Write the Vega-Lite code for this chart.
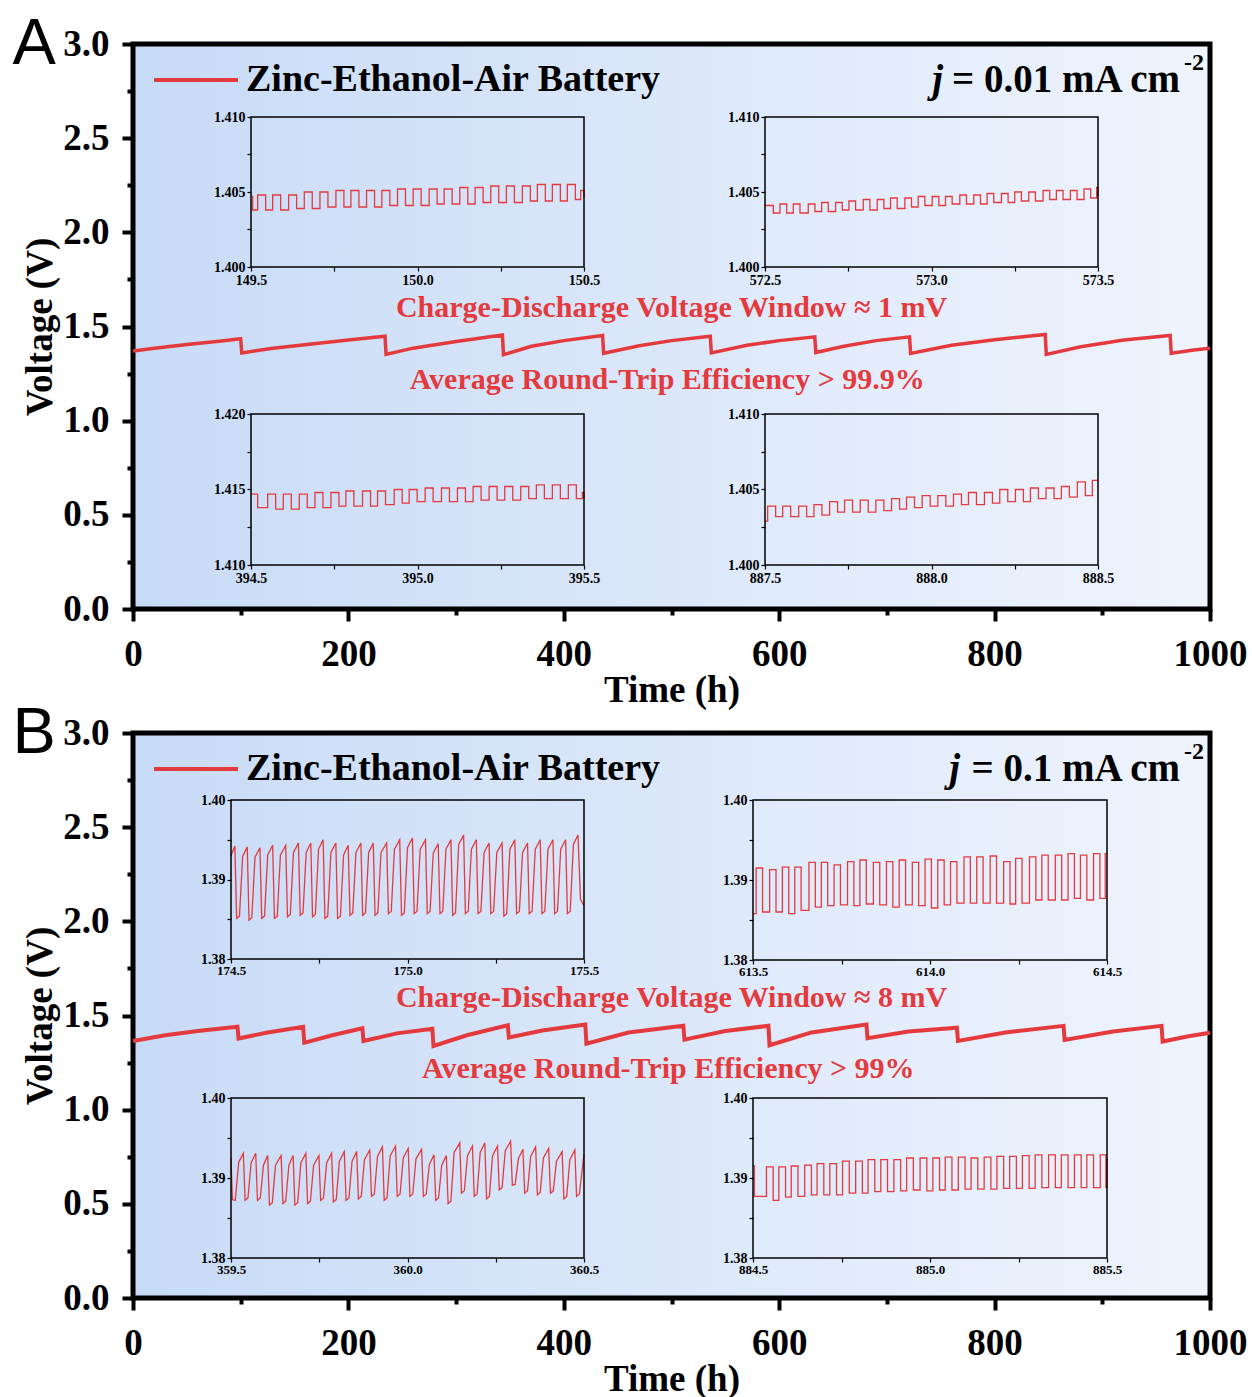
{
"$schema":"https://vega.github.io/schema/vega-lite/v6.json",
"width":1252,"height":1397,"autosize":{"type":"none"},"padding":0,"background":"white",
"config":{"view":{"stroke":null},
 "axis":{"labelFont":"Liberation Serif","labelFontWeight":"bold","labelColor":"black","tickColor":"black","titleFont":"Liberation Serif","titleFontWeight":"bold","titleColor":"black","grid":false,"domain":false,"zindex":5,"labelFlush":false},
 "text":{"font":"Liberation Serif","fontWeight":"bold"}},
"datasets":{
"mainA":[{"t":0,"v":1.37},{"t":20,"v":1.385},{"t":50,"v":1.405},{"t":80,"v":1.422},{"t":100,"v":1.435},{"t":101,"v":1.36},{"t":130,"v":1.385},{"t":170,"v":1.41},{"t":200,"v":1.428},{"t":234,"v":1.448},{"t":235,"v":1.352},{"t":260,"v":1.385},{"t":300,"v":1.42},{"t":343,"v":1.455},{"t":344,"v":1.35},{"t":370,"v":1.395},{"t":400,"v":1.425},{"t":436,"v":1.452},{"t":437,"v":1.358},{"t":470,"v":1.398},{"t":500,"v":1.425},{"t":536,"v":1.448},{"t":537,"v":1.36},{"t":570,"v":1.4},{"t":600,"v":1.425},{"t":633,"v":1.445},{"t":634,"v":1.362},{"t":660,"v":1.395},{"t":690,"v":1.425},{"t":721,"v":1.445},{"t":722,"v":1.357},{"t":760,"v":1.4},{"t":800,"v":1.43},{"t":847,"v":1.458},{"t":848,"v":1.352},{"t":880,"v":1.392},{"t":920,"v":1.428},{"t":963,"v":1.452},{"t":964,"v":1.358},{"t":985,"v":1.375},{"t":1000,"v":1.385}],
"mainB":[{"t":0,"v":1.365},{"t":30,"v":1.395},{"t":60,"v":1.418},{"t":97,"v":1.44},{"t":98,"v":1.378},{"t":125,"v":1.41},{"t":158,"v":1.44},{"t":159,"v":1.355},{"t":185,"v":1.395},{"t":213,"v":1.432},{"t":214,"v":1.365},{"t":245,"v":1.405},{"t":278,"v":1.43},{"t":279,"v":1.338},{"t":310,"v":1.395},{"t":348,"v":1.448},{"t":349,"v":1.383},{"t":380,"v":1.42},{"t":420,"v":1.452},{"t":421,"v":1.35},{"t":460,"v":1.41},{"t":511,"v":1.445},{"t":512,"v":1.372},{"t":550,"v":1.418},{"t":590,"v":1.445},{"t":591,"v":1.342},{"t":630,"v":1.41},{"t":681,"v":1.452},{"t":682,"v":1.38},{"t":720,"v":1.415},{"t":765,"v":1.435},{"t":766,"v":1.365},{"t":810,"v":1.41},{"t":864,"v":1.445},{"t":865,"v":1.37},{"t":910,"v":1.415},{"t":955,"v":1.445},{"t":956,"v":1.362},{"t":980,"v":1.39},{"t":1000,"v":1.408}],
"a1":[{"t":149.5,"v":1.4047},{"t":149.505,"v":1.4038},{"t":149.52,"v":1.4048},{"t":149.544,"v":1.4038},{"t":149.565,"v":1.4048},{"t":149.589,"v":1.4038},{"t":149.613,"v":1.4048},{"t":149.637,"v":1.4039},{"t":149.66,"v":1.405},{"t":149.684,"v":1.4039},{"t":149.707,"v":1.405},{"t":149.731,"v":1.404},{"t":149.755,"v":1.4051},{"t":149.779,"v":1.404},{"t":149.8,"v":1.4051},{"t":149.824,"v":1.404},{"t":149.847,"v":1.4051},{"t":149.871,"v":1.404},{"t":149.893,"v":1.4051},{"t":149.917,"v":1.4041},{"t":149.94,"v":1.4052},{"t":149.964,"v":1.4041},{"t":149.987,"v":1.4052},{"t":150.011,"v":1.4041},{"t":150.035,"v":1.4052},{"t":150.059,"v":1.4042},{"t":150.08,"v":1.4052},{"t":150.104,"v":1.4042},{"t":150.127,"v":1.4053},{"t":150.151,"v":1.4042},{"t":150.173,"v":1.4053},{"t":150.197,"v":1.4043},{"t":150.22,"v":1.4054},{"t":150.244,"v":1.4043},{"t":150.267,"v":1.4054},{"t":150.291,"v":1.4043},{"t":150.315,"v":1.4054},{"t":150.339,"v":1.4044},{"t":150.36,"v":1.4055},{"t":150.384,"v":1.4044},{"t":150.405,"v":1.4055},{"t":150.429,"v":1.4044},{"t":150.45,"v":1.4055},{"t":150.474,"v":1.4045},{"t":150.49,"v":1.4051},{"t":150.5,"v":1.4046}],
"a2":[{"t":572.5,"v":1.4041},{"t":572.525,"v":1.4036},{"t":572.545,"v":1.4042},{"t":572.565,"v":1.4036},{"t":572.585,"v":1.4042},{"t":572.605,"v":1.4036},{"t":572.63,"v":1.4042},{"t":572.65,"v":1.4037},{"t":572.67,"v":1.4043},{"t":572.69,"v":1.4037},{"t":572.712,"v":1.4043},{"t":572.732,"v":1.4038},{"t":572.752,"v":1.4044},{"t":572.772,"v":1.4038},{"t":572.795,"v":1.4045},{"t":572.815,"v":1.4038},{"t":572.837,"v":1.4045},{"t":572.857,"v":1.4039},{"t":572.877,"v":1.4046},{"t":572.897,"v":1.4039},{"t":572.92,"v":1.4046},{"t":572.94,"v":1.404},{"t":572.96,"v":1.4047},{"t":572.98,"v":1.4041},{"t":573.002,"v":1.4047},{"t":573.022,"v":1.4041},{"t":573.042,"v":1.4047},{"t":573.062,"v":1.4042},{"t":573.085,"v":1.4048},{"t":573.105,"v":1.4042},{"t":573.127,"v":1.4048},{"t":573.147,"v":1.4042},{"t":573.167,"v":1.4049},{"t":573.187,"v":1.4043},{"t":573.21,"v":1.4049},{"t":573.23,"v":1.4043},{"t":573.25,"v":1.405},{"t":573.27,"v":1.4044},{"t":573.292,"v":1.405},{"t":573.312,"v":1.4044},{"t":573.335,"v":1.4051},{"t":573.355,"v":1.4045},{"t":573.375,"v":1.4051},{"t":573.395,"v":1.4045},{"t":573.417,"v":1.4051},{"t":573.437,"v":1.4045},{"t":573.458,"v":1.4052},{"t":573.478,"v":1.4046},{"t":573.496,"v":1.4053},{"t":573.5,"v":1.4047}],
"a3":[{"t":394.5,"v":1.4147},{"t":394.52,"v":1.4138},{"t":394.55,"v":1.4147},{"t":394.574,"v":1.4137},{"t":394.597,"v":1.4147},{"t":394.621,"v":1.4137},{"t":394.645,"v":1.4147},{"t":394.669,"v":1.4138},{"t":394.692,"v":1.4148},{"t":394.716,"v":1.4138},{"t":394.74,"v":1.4148},{"t":394.764,"v":1.4139},{"t":394.785,"v":1.4149},{"t":394.809,"v":1.4139},{"t":394.835,"v":1.4149},{"t":394.859,"v":1.4139},{"t":394.88,"v":1.4149},{"t":394.904,"v":1.414},{"t":394.93,"v":1.415},{"t":394.954,"v":1.4141},{"t":394.975,"v":1.415},{"t":394.999,"v":1.4142},{"t":395.023,"v":1.4151},{"t":395.047,"v":1.4142},{"t":395.072,"v":1.4151},{"t":395.096,"v":1.4142},{"t":395.12,"v":1.4151},{"t":395.144,"v":1.4142},{"t":395.167,"v":1.4152},{"t":395.191,"v":1.4143},{"t":395.215,"v":1.4152},{"t":395.239,"v":1.4143},{"t":395.262,"v":1.4152},{"t":395.286,"v":1.4143},{"t":395.31,"v":1.4152},{"t":395.334,"v":1.4144},{"t":395.357,"v":1.4153},{"t":395.381,"v":1.4144},{"t":395.405,"v":1.4153},{"t":395.429,"v":1.4144},{"t":395.453,"v":1.4153},{"t":395.477,"v":1.4144},{"t":395.495,"v":1.4148},{"t":395.5,"v":1.4144}],
"a4":[{"t":887.5,"v":1.4029},{"t":887.508,"v":1.4039},{"t":887.532,"v":1.4032},{"t":887.553,"v":1.4039},{"t":887.577,"v":1.4032},{"t":887.601,"v":1.4039},{"t":887.625,"v":1.4032},{"t":887.647,"v":1.404},{"t":887.671,"v":1.4033},{"t":887.694,"v":1.4042},{"t":887.718,"v":1.4035},{"t":887.739,"v":1.4043},{"t":887.763,"v":1.4035},{"t":887.786,"v":1.4043},{"t":887.81,"v":1.4035},{"t":887.833,"v":1.4043},{"t":887.857,"v":1.4036},{"t":887.88,"v":1.4044},{"t":887.904,"v":1.4037},{"t":887.925,"v":1.4045},{"t":887.949,"v":1.4038},{"t":887.972,"v":1.4046},{"t":887.996,"v":1.4039},{"t":888.019,"v":1.4046},{"t":888.043,"v":1.4039},{"t":888.066,"v":1.4047},{"t":888.09,"v":1.404},{"t":888.111,"v":1.4048},{"t":888.135,"v":1.404},{"t":888.159,"v":1.4048},{"t":888.183,"v":1.4041},{"t":888.205,"v":1.405},{"t":888.229,"v":1.4042},{"t":888.252,"v":1.405},{"t":888.276,"v":1.4042},{"t":888.297,"v":1.4051},{"t":888.321,"v":1.4044},{"t":888.344,"v":1.4051},{"t":888.368,"v":1.4044},{"t":888.39,"v":1.4052},{"t":888.414,"v":1.4045},{"t":888.438,"v":1.4055},{"t":888.462,"v":1.4046},{"t":888.483,"v":1.4056},{"t":888.5,"v":1.4056}],
"b1":[{"t":174.5,"v":1.393},{"t":174.511,"v":1.3942},{"t":174.516,"v":1.3851},{"t":174.524,"v":1.3854},{"t":174.533,"v":1.3929},{"t":174.546,"v":1.3941},{"t":174.551,"v":1.3849},{"t":174.559,"v":1.3852},{"t":174.568,"v":1.3928},{"t":174.582,"v":1.394},{"t":174.587,"v":1.3851},{"t":174.595,"v":1.3854},{"t":174.604,"v":1.3931},{"t":174.618,"v":1.3943},{"t":174.623,"v":1.3851},{"t":174.631,"v":1.3854},{"t":174.64,"v":1.3931},{"t":174.655,"v":1.3943},{"t":174.66,"v":1.3853},{"t":174.668,"v":1.3856},{"t":174.677,"v":1.3934},{"t":174.691,"v":1.3946},{"t":174.696,"v":1.3855},{"t":174.704,"v":1.3858},{"t":174.713,"v":1.3934},{"t":174.726,"v":1.3946},{"t":174.731,"v":1.3853},{"t":174.739,"v":1.3856},{"t":174.748,"v":1.3938},{"t":174.761,"v":1.395},{"t":174.766,"v":1.3851},{"t":174.774,"v":1.3854},{"t":174.783,"v":1.3934},{"t":174.797,"v":1.3946},{"t":174.802,"v":1.3851},{"t":174.81,"v":1.3854},{"t":174.819,"v":1.3931},{"t":174.832,"v":1.3943},{"t":174.837,"v":1.3855},{"t":174.845,"v":1.3858},{"t":174.854,"v":1.3934},{"t":174.868,"v":1.3946},{"t":174.873,"v":1.3855},{"t":174.881,"v":1.3858},{"t":174.89,"v":1.3934},{"t":174.903,"v":1.3946},{"t":174.908,"v":1.3855},{"t":174.916,"v":1.3858},{"t":174.925,"v":1.3934},{"t":174.941,"v":1.3946},{"t":174.946,"v":1.3857},{"t":174.954,"v":1.386},{"t":174.963,"v":1.3938},{"t":174.978,"v":1.395},{"t":174.983,"v":1.3855},{"t":174.991,"v":1.3858},{"t":175.0,"v":1.394},{"t":175.014,"v":1.3952},{"t":175.019,"v":1.3857},{"t":175.027,"v":1.386},{"t":175.036,"v":1.3938},{"t":175.051,"v":1.395},{"t":175.056,"v":1.3857},{"t":175.064,"v":1.386},{"t":175.073,"v":1.3933},{"t":175.087,"v":1.3945},{"t":175.092,"v":1.3857},{"t":175.1,"v":1.386},{"t":175.109,"v":1.3938},{"t":175.123,"v":1.395},{"t":175.128,"v":1.3855},{"t":175.136,"v":1.3858},{"t":175.145,"v":1.3944},{"t":175.159,"v":1.3956},{"t":175.164,"v":1.3857},{"t":175.172,"v":1.386},{"t":175.181,"v":1.3938},{"t":175.195,"v":1.395},{"t":175.2,"v":1.3857},{"t":175.208,"v":1.386},{"t":175.217,"v":1.3934},{"t":175.231,"v":1.3946},{"t":175.236,"v":1.3857},{"t":175.244,"v":1.386},{"t":175.253,"v":1.3934},{"t":175.268,"v":1.3946},{"t":175.273,"v":1.3854},{"t":175.281,"v":1.3857},{"t":175.29,"v":1.3938},{"t":175.304,"v":1.395},{"t":175.309,"v":1.3857},{"t":175.317,"v":1.386},{"t":175.326,"v":1.3934},{"t":175.34,"v":1.3946},{"t":175.345,"v":1.3857},{"t":175.353,"v":1.386},{"t":175.362,"v":1.3938},{"t":175.376,"v":1.395},{"t":175.381,"v":1.3857},{"t":175.389,"v":1.386},{"t":175.398,"v":1.3938},{"t":175.412,"v":1.395},{"t":175.417,"v":1.3857},{"t":175.425,"v":1.386},{"t":175.434,"v":1.3938},{"t":175.448,"v":1.395},{"t":175.453,"v":1.3857},{"t":175.461,"v":1.386},{"t":175.47,"v":1.3944},{"t":175.483,"v":1.3956},{"t":175.49,"v":1.3875},{"t":175.5,"v":1.3867}],
"b2":[{"t":613.5,"v":1.3858},{"t":613.509,"v":1.3915},{"t":613.527,"v":1.386},{"t":613.547,"v":1.3913},{"t":613.565,"v":1.386},{"t":613.583,"v":1.3916},{"t":613.601,"v":1.3858},{"t":613.618,"v":1.3916},{"t":613.636,"v":1.3862},{"t":613.658,"v":1.3922},{"t":613.676,"v":1.3866},{"t":613.693,"v":1.3922},{"t":613.711,"v":1.3868},{"t":613.729,"v":1.3919},{"t":613.747,"v":1.3869},{"t":613.767,"v":1.3923},{"t":613.785,"v":1.3868},{"t":613.802,"v":1.3925},{"t":613.82,"v":1.387},{"t":613.84,"v":1.3922},{"t":613.858,"v":1.3869},{"t":613.877,"v":1.3923},{"t":613.895,"v":1.3866},{"t":613.913,"v":1.3925},{"t":613.931,"v":1.3869},{"t":613.95,"v":1.3922},{"t":613.968,"v":1.3868},{"t":613.986,"v":1.3926},{"t":614.004,"v":1.3865},{"t":614.022,"v":1.3925},{"t":614.04,"v":1.3869},{"t":614.058,"v":1.3923},{"t":614.076,"v":1.3871},{"t":614.096,"v":1.3929},{"t":614.114,"v":1.3871},{"t":614.132,"v":1.3929},{"t":614.15,"v":1.3871},{"t":614.17,"v":1.393},{"t":614.188,"v":1.3871},{"t":614.208,"v":1.3923},{"t":614.226,"v":1.387},{"t":614.242,"v":1.3927},{"t":614.26,"v":1.3871},{"t":614.281,"v":1.3929},{"t":614.299,"v":1.3875},{"t":614.316,"v":1.3931},{"t":614.334,"v":1.3875},{"t":614.354,"v":1.3931},{"t":614.372,"v":1.3875},{"t":614.39,"v":1.3933},{"t":614.408,"v":1.3877},{"t":614.425,"v":1.3931},{"t":614.443,"v":1.3875},{"t":614.462,"v":1.3933},{"t":614.48,"v":1.3877},{"t":614.495,"v":1.3933},{"t":614.5,"v":1.3933}],
"b3":[{"t":359.5,"v":1.3925},{"t":359.504,"v":1.3873},{"t":359.512,"v":1.3872},{"t":359.522,"v":1.392},{"t":359.535,"v":1.3931},{"t":359.54,"v":1.3872},{"t":359.548,"v":1.3875},{"t":359.557,"v":1.3919},{"t":359.57,"v":1.3931},{"t":359.575,"v":1.3872},{"t":359.583,"v":1.3875},{"t":359.592,"v":1.3916},{"t":359.604,"v":1.3928},{"t":359.609,"v":1.3866},{"t":359.617,"v":1.3869},{"t":359.626,"v":1.3916},{"t":359.642,"v":1.3928},{"t":359.647,"v":1.3868},{"t":359.655,"v":1.3871},{"t":359.664,"v":1.3916},{"t":359.676,"v":1.3928},{"t":359.681,"v":1.3866},{"t":359.689,"v":1.3869},{"t":359.698,"v":1.3919},{"t":359.712,"v":1.3931},{"t":359.717,"v":1.3868},{"t":359.725,"v":1.3871},{"t":359.734,"v":1.3916},{"t":359.749,"v":1.3928},{"t":359.754,"v":1.3872},{"t":359.762,"v":1.3875},{"t":359.771,"v":1.3919},{"t":359.785,"v":1.3931},{"t":359.79,"v":1.387},{"t":359.798,"v":1.3873},{"t":359.807,"v":1.3921},{"t":359.821,"v":1.3933},{"t":359.826,"v":1.3872},{"t":359.834,"v":1.3875},{"t":359.843,"v":1.3921},{"t":359.856,"v":1.3933},{"t":359.861,"v":1.3874},{"t":359.869,"v":1.3877},{"t":359.878,"v":1.3923},{"t":359.893,"v":1.3935},{"t":359.898,"v":1.3877},{"t":359.906,"v":1.388},{"t":359.915,"v":1.3927},{"t":359.929,"v":1.3939},{"t":359.934,"v":1.3872},{"t":359.942,"v":1.3875},{"t":359.951,"v":1.3928},{"t":359.966,"v":1.394},{"t":359.971,"v":1.3877},{"t":359.979,"v":1.388},{"t":359.988,"v":1.3925},{"t":360.002,"v":1.3937},{"t":360.007,"v":1.3877},{"t":360.015,"v":1.388},{"t":360.024,"v":1.3924},{"t":360.04,"v":1.3936},{"t":360.045,"v":1.3877},{"t":360.053,"v":1.388},{"t":360.062,"v":1.3917},{"t":360.075,"v":1.3929},{"t":360.08,"v":1.3872},{"t":360.088,"v":1.3875},{"t":360.097,"v":1.3916},{"t":360.11,"v":1.3928},{"t":360.115,"v":1.3868},{"t":360.123,"v":1.3871},{"t":360.132,"v":1.3932},{"t":360.148,"v":1.3944},{"t":360.153,"v":1.3881},{"t":360.161,"v":1.3884},{"t":360.17,"v":1.3928},{"t":360.184,"v":1.394},{"t":360.189,"v":1.3877},{"t":360.197,"v":1.388},{"t":360.206,"v":1.3932},{"t":360.219,"v":1.3944},{"t":360.224,"v":1.3874},{"t":360.232,"v":1.3877},{"t":360.241,"v":1.3928},{"t":360.255,"v":1.394},{"t":360.26,"v":1.3885},{"t":360.268,"v":1.3888},{"t":360.277,"v":1.3934},{"t":360.292,"v":1.3946},{"t":360.297,"v":1.3891},{"t":360.305,"v":1.3892},{"t":360.314,"v":1.3924},{"t":360.327,"v":1.3936},{"t":360.332,"v":1.3881},{"t":360.34,"v":1.3884},{"t":360.349,"v":1.3927},{"t":360.363,"v":1.3939},{"t":360.368,"v":1.3879},{"t":360.376,"v":1.3882},{"t":360.385,"v":1.3925},{"t":360.4,"v":1.3937},{"t":360.405,"v":1.3881},{"t":360.413,"v":1.3884},{"t":360.422,"v":1.3921},{"t":360.438,"v":1.3933},{"t":360.443,"v":1.3874},{"t":360.451,"v":1.3877},{"t":360.46,"v":1.3923},{"t":360.474,"v":1.3935},{"t":360.479,"v":1.3877},{"t":360.487,"v":1.388},{"t":360.5,"v":1.393}],
"b4":[{"t":884.5,"v":1.3915},{"t":884.504,"v":1.3877},{"t":884.538,"v":1.3914},{"t":884.557,"v":1.3872},{"t":884.573,"v":1.3914},{"t":884.592,"v":1.3876},{"t":884.608,"v":1.3915},{"t":884.627,"v":1.3877},{"t":884.646,"v":1.3916},{"t":884.665,"v":1.3879},{"t":884.681,"v":1.3918},{"t":884.7,"v":1.3879},{"t":884.717,"v":1.3918},{"t":884.736,"v":1.3879},{"t":884.753,"v":1.3921},{"t":884.772,"v":1.3881},{"t":884.79,"v":1.3921},{"t":884.809,"v":1.3881},{"t":884.825,"v":1.3923},{"t":884.844,"v":1.3883},{"t":884.861,"v":1.3923},{"t":884.88,"v":1.3883},{"t":884.898,"v":1.3923},{"t":884.917,"v":1.3884},{"t":884.934,"v":1.3925},{"t":884.953,"v":1.3885},{"t":884.972,"v":1.3925},{"t":884.991,"v":1.3884},{"t":885.008,"v":1.3925},{"t":885.027,"v":1.3885},{"t":885.043,"v":1.3926},{"t":885.062,"v":1.3885},{"t":885.08,"v":1.3926},{"t":885.099,"v":1.3886},{"t":885.116,"v":1.3925},{"t":885.135,"v":1.3886},{"t":885.153,"v":1.3926},{"t":885.172,"v":1.3886},{"t":885.189,"v":1.3927},{"t":885.208,"v":1.3887},{"t":885.225,"v":1.3927},{"t":885.244,"v":1.3887},{"t":885.261,"v":1.3928},{"t":885.28,"v":1.3887},{"t":885.297,"v":1.3929},{"t":885.316,"v":1.3888},{"t":885.335,"v":1.3929},{"t":885.354,"v":1.3888},{"t":885.371,"v":1.3929},{"t":885.39,"v":1.3888},{"t":885.408,"v":1.3929},{"t":885.427,"v":1.3888},{"t":885.443,"v":1.3929},{"t":885.462,"v":1.3888},{"t":885.481,"v":1.3929},{"t":885.497,"v":1.3888},{"t":885.5,"v":1.3925}]
},
"layer":[
{"layer":[
 {"data":{"values":[{}]},"mark":{"type":"rect","fill":{"gradient":"linear","x1":0,"y1":0,"x2":1,"y2":0,"stops":[{"offset":0,"color":"#c8dbf6"},{"offset":1,"color":"#eff4fd"}]},"stroke":"black","strokeWidth":5},
  "encoding":{"x":{"datum":0,"type":"quantitative"},"x2":{"datum":1000},"y":{"datum":0,"type":"quantitative"},"y2":{"datum":3}}},
 {"data":{"name":"mainA"},"mark":{"type":"line","strokeWidth":3.5},
  "encoding":{
   "x":{"field":"t","type":"quantitative","scale":{"domain":[0,1000],"range":[133,1210],"nice":false,"zero":false},
    "axis":{"orient":"bottom","offset":-788,"values":[0,100,200,300,400,500,600,700,800,900,1000],"format":"d","labelExpr":"datum.value % 200 == 0 ? datum.label : ''","tickSize":{"condition":{"test":"datum.value % 200 == 0","value":12},"value":6},"tickWidth":4,"labelFontSize":37,"labelPadding":15,"title":"Time (h)","titleFontSize":37,"titlePadding":0}},
   "y":{"field":"v","type":"quantitative","scale":{"domain":[0,3],"range":[609,44],"nice":false,"zero":false},
    "axis":{"orient":"left","offset":-133,"values":[0,0.25,0.5,0.75,1,1.25,1.5,1.75,2,2.25,2.5,2.75,3],"format":".1f","labelExpr":"round(datum.value*100) % 50 == 0 ? datum.label : ''","tickSize":{"condition":{"test":"round(datum.value*100) % 50 == 0","value":11},"value":6},"tickWidth":4,"labelFontSize":37,"labelPadding":13,"title":"Voltage (V)","titleFontSize":37,"titlePadding":3}},
   "color":{"datum":"Zinc-Ethanol-Air Battery","type":"nominal","scale":{"range":["#e53a3d"]},
    "legend":{"orient":"none","legendX":152,"legendY":36,"title":null,"symbolType":"stroke","symbolSize":7056,"symbolStrokeWidth":4,"labelFont":"Liberation Serif","labelFontWeight":"bold","labelFontSize":38,"labelColor":"black","labelLimit":1000,"labelOffset":6,"padding":0}}}},
 {"data":{"values":[{}]},"mark":{"type":"text","text":"Charge-Discharge Voltage Window ≈ 1 mV","fontSize":30,"color":"#e53a3d","align":"center","baseline":"middle"},
  "encoding":{"x":{"datum":500,"type":"quantitative"},"y":{"datum":1.6,"type":"quantitative"}}},
 {"data":{"values":[{}]},"mark":{"type":"text","text":"Average Round-Trip Efficiency > 99.9%","fontSize":30,"color":"#e53a3d","align":"center","baseline":"middle"},
  "encoding":{"x":{"datum":496,"type":"quantitative"},"y":{"datum":1.216,"type":"quantitative"}}},
 {"data":{"values":[{}]},"mark":{"type":"text","text":"= 0.01 mA cm","fontSize":39,"color":"black","align":"right","baseline":"middle","dx":-30},
  "encoding":{"x":{"datum":1000,"type":"quantitative"},"y":{"datum":2.81,"type":"quantitative"}}},
 {"data":{"values":[{}]},"mark":{"type":"text","text":"-2","fontSize":24,"color":"black","align":"left","baseline":"middle","dx":-26,"dy":-17},
  "encoding":{"x":{"datum":1000,"type":"quantitative"},"y":{"datum":2.81,"type":"quantitative"}}},
 {"data":{"values":[{}]},"mark":{"type":"text","text":"j","fontSize":39,"fontStyle":"italic","color":"black","align":"right","baseline":"middle","dx":-267},
  "encoding":{"x":{"datum":1000,"type":"quantitative"},"y":{"datum":2.81,"type":"quantitative"}}},
 {"data":{"values":[{}]},"mark":{"type":"text","text":"A","font":"Liberation Sans","fontWeight":"normal","fontSize":65,"color":"black","align":"left","baseline":"middle"},
  "encoding":{"x":{"datum":-112,"type":"quantitative"},"y":{"datum":3.0,"type":"quantitative"}}}
]},
{"layer":[
 {"data":{"name":"a1"},"mark":{"type":"line","color":"#e53a3d","strokeWidth":1.3,"interpolate":"step-after"},
  "encoding":{
   "x":{"field":"t","type":"quantitative","scale":{"domain":[149.5,150.5],"range":[251,584],"nice":false,"zero":false},
    "axis":{"orient":"bottom","offset":-1130,"zindex":6,"values":[149.5,149.75,150,150.25,150.5],"format":".1f","labelExpr":"round(datum.value*100) % 50 == 0 ? datum.label : ''","tickSize":4,"tickWidth":1.2,"labelFontSize":14,"labelPadding":2,"title":null}},
   "y":{"field":"v","type":"quantitative","scale":{"domain":[1.4,1.41],"range":[267,117],"nice":false,"zero":false},
    "axis":{"orient":"left","offset":-251,"zindex":6,"values":[1.4,1.4025,1.405,1.4075,1.41],"format":".3f","labelExpr":"round(datum.value*10000) % 50 == 0 ? datum.label : ''","tickSize":4,"tickWidth":1.2,"labelFontSize":14,"labelPadding":2,"title":null}}}},
 {"data":{"values":[{}]},"mark":{"type":"rect","fill":"transparent","stroke":"black","strokeWidth":1.5},
  "encoding":{"x":{"datum":149.5,"type":"quantitative"},"x2":{"datum":150.5},"y":{"datum":1.4,"type":"quantitative"},"y2":{"datum":1.41}}}
]},
{"layer":[
 {"data":{"name":"a2"},"mark":{"type":"line","color":"#e53a3d","strokeWidth":1.3,"interpolate":"step-after"},
  "encoding":{
   "x":{"field":"t","type":"quantitative","scale":{"domain":[572.5,573.5],"range":[765,1098],"nice":false,"zero":false},
    "axis":{"orient":"bottom","offset":-1130,"zindex":6,"values":[572.5,572.75,573,573.25,573.5],"format":".1f","labelExpr":"round(datum.value*100) % 50 == 0 ? datum.label : ''","tickSize":4,"tickWidth":1.2,"labelFontSize":14,"labelPadding":2,"title":null}},
   "y":{"field":"v","type":"quantitative","scale":{"domain":[1.4,1.41],"range":[267,117],"nice":false,"zero":false},
    "axis":{"orient":"left","offset":-765,"zindex":6,"values":[1.4,1.4025,1.405,1.4075,1.41],"format":".3f","labelExpr":"round(datum.value*10000) % 50 == 0 ? datum.label : ''","tickSize":4,"tickWidth":1.2,"labelFontSize":14,"labelPadding":2,"title":null}}}},
 {"data":{"values":[{}]},"mark":{"type":"rect","fill":"transparent","stroke":"black","strokeWidth":1.5},
  "encoding":{"x":{"datum":572.5,"type":"quantitative"},"x2":{"datum":573.5},"y":{"datum":1.4,"type":"quantitative"},"y2":{"datum":1.41}}}
]},
{"layer":[
 {"data":{"name":"a3"},"mark":{"type":"line","color":"#e53a3d","strokeWidth":1.3,"interpolate":"step-after"},
  "encoding":{
   "x":{"field":"t","type":"quantitative","scale":{"domain":[394.5,395.5],"range":[251,584],"nice":false,"zero":false},
    "axis":{"orient":"bottom","offset":-832,"zindex":6,"values":[394.5,394.75,395,395.25,395.5],"format":".1f","labelExpr":"round(datum.value*100) % 50 == 0 ? datum.label : ''","tickSize":4,"tickWidth":1.2,"labelFontSize":14,"labelPadding":2,"title":null}},
   "y":{"field":"v","type":"quantitative","scale":{"domain":[1.41,1.42],"range":[565,414],"nice":false,"zero":false},
    "axis":{"orient":"left","offset":-251,"zindex":6,"values":[1.41,1.4125,1.415,1.4175,1.42],"format":".3f","labelExpr":"round(datum.value*10000) % 50 == 0 ? datum.label : ''","tickSize":4,"tickWidth":1.2,"labelFontSize":14,"labelPadding":2,"title":null}}}},
 {"data":{"values":[{}]},"mark":{"type":"rect","fill":"transparent","stroke":"black","strokeWidth":1.5},
  "encoding":{"x":{"datum":394.5,"type":"quantitative"},"x2":{"datum":395.5},"y":{"datum":1.41,"type":"quantitative"},"y2":{"datum":1.42}}}
]},
{"layer":[
 {"data":{"name":"a4"},"mark":{"type":"line","color":"#e53a3d","strokeWidth":1.3,"interpolate":"step-after"},
  "encoding":{
   "x":{"field":"t","type":"quantitative","scale":{"domain":[887.5,888.5],"range":[765,1098],"nice":false,"zero":false},
    "axis":{"orient":"bottom","offset":-832,"zindex":6,"values":[887.5,887.75,888,888.25,888.5],"format":".1f","labelExpr":"round(datum.value*100) % 50 == 0 ? datum.label : ''","tickSize":4,"tickWidth":1.2,"labelFontSize":14,"labelPadding":2,"title":null}},
   "y":{"field":"v","type":"quantitative","scale":{"domain":[1.4,1.41],"range":[565,414],"nice":false,"zero":false},
    "axis":{"orient":"left","offset":-765,"zindex":6,"values":[1.4,1.4025,1.405,1.4075,1.41],"format":".3f","labelExpr":"round(datum.value*10000) % 50 == 0 ? datum.label : ''","tickSize":4,"tickWidth":1.2,"labelFontSize":14,"labelPadding":2,"title":null}}}},
 {"data":{"values":[{}]},"mark":{"type":"rect","fill":"transparent","stroke":"black","strokeWidth":1.5},
  "encoding":{"x":{"datum":887.5,"type":"quantitative"},"x2":{"datum":888.5},"y":{"datum":1.4,"type":"quantitative"},"y2":{"datum":1.41}}}
]},
{"layer":[
 {"data":{"values":[{}]},"mark":{"type":"rect","fill":{"gradient":"linear","x1":0,"y1":0,"x2":1,"y2":0,"stops":[{"offset":0,"color":"#c8dbf6"},{"offset":1,"color":"#eff4fd"}]},"stroke":"black","strokeWidth":5},
  "encoding":{"x":{"datum":0,"type":"quantitative"},"x2":{"datum":1000},"y":{"datum":0,"type":"quantitative"},"y2":{"datum":3}}},
 {"data":{"name":"mainB"},"mark":{"type":"line","strokeWidth":4},
  "encoding":{
   "x":{"field":"t","type":"quantitative","scale":{"domain":[0,1000],"range":[133,1210],"nice":false,"zero":false},
    "axis":{"orient":"bottom","offset":-99,"values":[0,100,200,300,400,500,600,700,800,900,1000],"format":"d","labelExpr":"datum.value % 200 == 0 ? datum.label : ''","tickSize":{"condition":{"test":"datum.value % 200 == 0","value":12},"value":6},"tickWidth":4,"labelFontSize":37,"labelPadding":15,"title":"Time (h)","titleFontSize":37,"titlePadding":0}},
   "y":{"field":"v","type":"quantitative","scale":{"domain":[0,3],"range":[1298,733],"nice":false,"zero":false},
    "axis":{"orient":"left","offset":-133,"values":[0,0.25,0.5,0.75,1,1.25,1.5,1.75,2,2.25,2.5,2.75,3],"format":".1f","labelExpr":"round(datum.value*100) % 50 == 0 ? datum.label : ''","tickSize":{"condition":{"test":"round(datum.value*100) % 50 == 0","value":11},"value":6},"tickWidth":4,"labelFontSize":37,"labelPadding":13,"title":"Voltage (V)","titleFontSize":37,"titlePadding":3}},
   "color":{"datum":"Zinc-Ethanol-Air Battery","type":"nominal","scale":{"range":["#e53a3d"]},
    "legend":{"orient":"none","legendX":152,"legendY":725,"title":null,"symbolType":"stroke","symbolSize":7056,"symbolStrokeWidth":4,"labelFont":"Liberation Serif","labelFontWeight":"bold","labelFontSize":38,"labelColor":"black","labelLimit":1000,"labelOffset":6,"padding":0}}}},
 {"data":{"values":[{}]},"mark":{"type":"text","text":"Charge-Discharge Voltage Window ≈ 8 mV","fontSize":30,"color":"#e53a3d","align":"center","baseline":"middle"},
  "encoding":{"x":{"datum":500,"type":"quantitative"},"y":{"datum":1.595,"type":"quantitative"}}},
 {"data":{"values":[{}]},"mark":{"type":"text","text":"Average Round-Trip Efficiency > 99%","fontSize":30,"color":"#e53a3d","align":"center","baseline":"middle"},
  "encoding":{"x":{"datum":497,"type":"quantitative"},"y":{"datum":1.216,"type":"quantitative"}}},
 {"data":{"values":[{}]},"mark":{"type":"text","text":"= 0.1 mA cm","fontSize":39,"color":"black","align":"right","baseline":"middle","dx":-30},
  "encoding":{"x":{"datum":1000,"type":"quantitative"},"y":{"datum":2.81,"type":"quantitative"}}},
 {"data":{"values":[{}]},"mark":{"type":"text","text":"-2","fontSize":24,"color":"black","align":"left","baseline":"middle","dx":-26,"dy":-17},
  "encoding":{"x":{"datum":1000,"type":"quantitative"},"y":{"datum":2.81,"type":"quantitative"}}},
 {"data":{"values":[{}]},"mark":{"type":"text","text":"j","fontSize":39,"fontStyle":"italic","color":"black","align":"right","baseline":"middle","dx":-250},
  "encoding":{"x":{"datum":1000,"type":"quantitative"},"y":{"datum":2.81,"type":"quantitative"}}},
 {"data":{"values":[{}]},"mark":{"type":"text","text":"B","font":"Liberation Sans","fontWeight":"normal","fontSize":65,"color":"black","align":"left","baseline":"middle"},
  "encoding":{"x":{"datum":-112,"type":"quantitative"},"y":{"datum":3.0,"type":"quantitative"}}}
]},
{"layer":[
 {"data":{"name":"b1"},"mark":{"type":"line","color":"#e53a3d","strokeWidth":1.3},
  "encoding":{
   "x":{"field":"t","type":"quantitative","scale":{"domain":[174.5,175.5],"range":[231,584],"nice":false,"zero":false},
    "axis":{"orient":"bottom","offset":-438,"zindex":6,"values":[174.5,174.75,175,175.25,175.5],"format":".1f","labelExpr":"round(datum.value*100) % 50 == 0 ? datum.label : ''","tickSize":4,"tickWidth":1.2,"labelFontSize":13,"labelPadding":1,"title":null}},
   "y":{"field":"v","type":"quantitative","scale":{"domain":[1.38,1.4],"range":[959,800],"nice":false,"zero":false},
    "axis":{"orient":"left","offset":-231,"zindex":6,"values":[1.38,1.385,1.39,1.395,1.4],"format":".2f","labelExpr":"round(datum.value*1000) % 10 == 0 ? datum.label : ''","tickSize":4,"tickWidth":1.2,"labelFontSize":14,"labelPadding":2,"title":null}}}},
 {"data":{"values":[{}]},"mark":{"type":"rect","fill":"transparent","stroke":"black","strokeWidth":1.5},
  "encoding":{"x":{"datum":174.5,"type":"quantitative"},"x2":{"datum":175.5},"y":{"datum":1.38,"type":"quantitative"},"y2":{"datum":1.4}}}
]},
{"layer":[
 {"data":{"name":"b2"},"mark":{"type":"line","color":"#e53a3d","strokeWidth":1.3,"interpolate":"step-after"},
  "encoding":{
   "x":{"field":"t","type":"quantitative","scale":{"domain":[613.5,614.5],"range":[753,1107],"nice":false,"zero":false},
    "axis":{"orient":"bottom","offset":-437,"zindex":6,"values":[613.5,613.75,614,614.25,614.5],"format":".1f","labelExpr":"round(datum.value*100) % 50 == 0 ? datum.label : ''","tickSize":4,"tickWidth":1.2,"labelFontSize":13,"labelPadding":1,"title":null}},
   "y":{"field":"v","type":"quantitative","scale":{"domain":[1.38,1.4],"range":[960,800],"nice":false,"zero":false},
    "axis":{"orient":"left","offset":-753,"zindex":6,"values":[1.38,1.385,1.39,1.395,1.4],"format":".2f","labelExpr":"round(datum.value*1000) % 10 == 0 ? datum.label : ''","tickSize":4,"tickWidth":1.2,"labelFontSize":14,"labelPadding":2,"title":null}}}},
 {"data":{"values":[{}]},"mark":{"type":"rect","fill":"transparent","stroke":"black","strokeWidth":1.5},
  "encoding":{"x":{"datum":613.5,"type":"quantitative"},"x2":{"datum":614.5},"y":{"datum":1.38,"type":"quantitative"},"y2":{"datum":1.4}}}
]},
{"layer":[
 {"data":{"name":"b3"},"mark":{"type":"line","color":"#e53a3d","strokeWidth":1.3},
  "encoding":{
   "x":{"field":"t","type":"quantitative","scale":{"domain":[359.5,360.5],"range":[231,584],"nice":false,"zero":false},
    "axis":{"orient":"bottom","offset":-139,"zindex":6,"values":[359.5,359.75,360,360.25,360.5],"format":".1f","labelExpr":"round(datum.value*100) % 50 == 0 ? datum.label : ''","tickSize":4,"tickWidth":1.2,"labelFontSize":13,"labelPadding":1,"title":null}},
   "y":{"field":"v","type":"quantitative","scale":{"domain":[1.38,1.4],"range":[1258,1098],"nice":false,"zero":false},
    "axis":{"orient":"left","offset":-231,"zindex":6,"values":[1.38,1.385,1.39,1.395,1.4],"format":".2f","labelExpr":"round(datum.value*1000) % 10 == 0 ? datum.label : ''","tickSize":4,"tickWidth":1.2,"labelFontSize":14,"labelPadding":2,"title":null}}}},
 {"data":{"values":[{}]},"mark":{"type":"rect","fill":"transparent","stroke":"black","strokeWidth":1.5},
  "encoding":{"x":{"datum":359.5,"type":"quantitative"},"x2":{"datum":360.5},"y":{"datum":1.38,"type":"quantitative"},"y2":{"datum":1.4}}}
]},
{"layer":[
 {"data":{"name":"b4"},"mark":{"type":"line","color":"#e53a3d","strokeWidth":1.3,"interpolate":"step-after"},
  "encoding":{
   "x":{"field":"t","type":"quantitative","scale":{"domain":[884.5,885.5],"range":[753,1107],"nice":false,"zero":false},
    "axis":{"orient":"bottom","offset":-139,"zindex":6,"values":[884.5,884.75,885,885.25,885.5],"format":".1f","labelExpr":"round(datum.value*100) % 50 == 0 ? datum.label : ''","tickSize":4,"tickWidth":1.2,"labelFontSize":13,"labelPadding":1,"title":null}},
   "y":{"field":"v","type":"quantitative","scale":{"domain":[1.38,1.4],"range":[1258,1098],"nice":false,"zero":false},
    "axis":{"orient":"left","offset":-753,"zindex":6,"values":[1.38,1.385,1.39,1.395,1.4],"format":".2f","labelExpr":"round(datum.value*1000) % 10 == 0 ? datum.label : ''","tickSize":4,"tickWidth":1.2,"labelFontSize":14,"labelPadding":2,"title":null}}}},
 {"data":{"values":[{}]},"mark":{"type":"rect","fill":"transparent","stroke":"black","strokeWidth":1.5},
  "encoding":{"x":{"datum":884.5,"type":"quantitative"},"x2":{"datum":885.5},"y":{"datum":1.38,"type":"quantitative"},"y2":{"datum":1.4}}}
]}
],
"resolve":{"scale":{"x":"independent","y":"independent","color":"independent"},"axis":{"x":"independent","y":"independent"},"legend":{"color":"independent"}}
}
